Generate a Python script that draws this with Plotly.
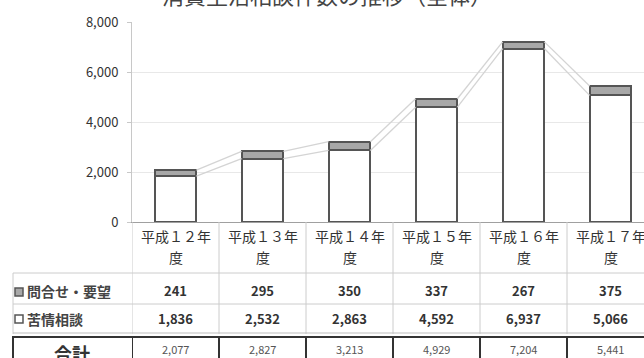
import plotly.graph_objects as go

# ---------------- data ----------------
categories = ["平成１２年度", "平成１３年度", "平成１４年度", "平成１５年度", "平成１６年度", "平成１７年度"]
cat_line1 = ["平成１２年", "平成１３年", "平成１４年", "平成１５年", "平成１６年", "平成１７年"]
cat_line2 = ["度", "度", "度", "度", "度", "度"]
inquiries = [241, 295, 350, 337, 267, 375]          # 問合せ・要望
complaints = [1836, 2532, 2863, 4592, 6937, 5066]    # 苦情相談
totals = [2077, 2827, 3213, 4929, 7204, 5441]        # 合計
y_ticks = [0, 2000, 4000, 6000, 8000]
title_text = "消費生活相談件数の推移（全体）"
row_labels = ["問合せ・要望", "苦情相談"]
total_label = "合計"

# ---------------- layout geometry ----------------
W, H = 644, 358
L, T = 132, 22
PLOT_H = 200
PLOT_W = W - L
COL = 87.0
BAR_W = 0.48
x_idx = list(range(len(categories)))
x_range = [-0.5, -0.5 + PLOT_W / COL]


def py(pix):
    """pixel y -> paper y"""
    return (T + PLOT_H - pix) / PLOT_H


def px(pix):
    """pixel x -> paper x"""
    return (pix - L) / PLOT_W


FONT = "Noto Sans CJK JP"
OUT = "#555555"

fig = go.Figure()

fig.add_trace(go.Bar(
    x=x_idx, y=complaints, width=BAR_W, name="苦情相談",
    marker=dict(color="#ffffff", line=dict(color=OUT, width=2)),
    showlegend=False, hoverinfo="skip"))
fig.add_trace(go.Bar(
    x=x_idx, y=inquiries, width=BAR_W, name="問合せ・要望",
    marker=dict(color="#a8a8a8", line=dict(color=OUT, width=2)),
    showlegend=False, hoverinfo="skip"))

# series lines (Excel style) connecting top of each series between bars
for series_top in (complaints, totals):
    xs, ys = [], []
    for i in range(len(x_idx) - 1):
        xs += [x_idx[i] + BAR_W / 2, x_idx[i + 1] - BAR_W / 2, None]
        ys += [series_top[i], series_top[i + 1], None]
    fig.add_trace(go.Scatter(x=xs, y=ys, mode="lines",
                             line=dict(color="#d4d4d4", width=1.3),
                             showlegend=False, hoverinfo="skip"))

shapes = []
ann = []

LIGHT = "#cccccc"
DARK = "#333333"

# vertical light lines of data table (column boundaries)
for k in range(len(x_idx) + 1):
    shapes.append(dict(type="line", xref="x", yref="paper",
                       x0=k - 0.5, x1=k - 0.5, y0=py(222), y1=py(334),
                       line=dict(color=LIGHT, width=1)))
# left faint border of row-label area
shapes.append(dict(type="line", xref="paper", yref="paper",
                   x0=px(13), x1=px(13), y0=py(273), y1=py(334),
                   line=dict(color=LIGHT, width=1)))
# horizontal faint lines
for yy in (273, 304, 333):
    shapes.append(dict(type="line", xref="paper", yref="paper",
                       x0=px(13), x1=1, y0=py(yy), y1=py(yy),
                       line=dict(color="#bdbdbd" if yy == 333 else LIGHT, width=1)))
# total row dark box
shapes.append(dict(type="line", xref="paper", yref="paper",
                   x0=px(12), x1=1, y0=py(337), y1=py(337),
                   line=dict(color=DARK, width=2)))
shapes.append(dict(type="line", xref="paper", yref="paper",
                   x0=px(13), x1=px(13), y0=py(337), y1=py(362),
                   line=dict(color=DARK, width=2)))
for k in range(len(x_idx) + 1):
    shapes.append(dict(type="line", xref="x", yref="paper",
                       x0=k - 0.5, x1=k - 0.5, y0=py(337), y1=py(362),
                       line=dict(color=DARK, width=2)))

# legend keys in row labels
shapes.append(dict(type="rect", xref="paper", yref="paper",
                   x0=px(15), x1=px(23), y0=py(296), y1=py(288),
                   fillcolor="#a8a8a8", line=dict(color=OUT, width=1.5)))
shapes.append(dict(type="rect", xref="paper", yref="paper",
                   x0=px(15), x1=px(23), y0=py(323), y1=py(315),
                   fillcolor="#ffffff", line=dict(color=OUT, width=1.5)))

# category labels (two lines) and table values
for i in x_idx:
    ann.append(dict(x=i, y=py(236), xref="x", yref="paper", text=cat_line1[i],
                    showarrow=False, xanchor="center", yanchor="middle",
                    font=dict(family=FONT, size=14, color="#333333")))
    ann.append(dict(x=i, y=py(257), xref="x", yref="paper", text=cat_line2[i],
                    showarrow=False, xanchor="center", yanchor="middle",
                    font=dict(family=FONT, size=14, color="#333333")))
    ann.append(dict(x=i, y=py(290), xref="x", yref="paper", text=f"{inquiries[i]:,}",
                    showarrow=False, xanchor="center", yanchor="middle",
                    font=dict(family=FONT, size=13, color="#333333", weight="bold")))
    ann.append(dict(x=i, y=py(318), xref="x", yref="paper", text=f"{complaints[i]:,}",
                    showarrow=False, xanchor="center", yanchor="middle",
                    font=dict(family=FONT, size=13, color="#333333", weight="bold")))
    ann.append(dict(x=i, y=py(349), xref="x", yref="paper", text=f"{totals[i]:,}",
                    showarrow=False, xanchor="center", yanchor="middle",
                    font=dict(family=FONT, size=11, color="#555555")))

# row labels
ann.append(dict(x=px(25), y=py(291), xref="paper", yref="paper", text=row_labels[0],
                showarrow=False, xanchor="left", yanchor="middle",
                font=dict(family=FONT, size=14, color="#444444", weight="bold")))
ann.append(dict(x=px(25), y=py(319), xref="paper", yref="paper", text=row_labels[1],
                showarrow=False, xanchor="left", yanchor="middle",
                font=dict(family=FONT, size=14, color="#444444", weight="bold")))
ann.append(dict(x=px(72), y=py(353), xref="paper", yref="paper", text=total_label,
                showarrow=False, xanchor="center", yanchor="middle",
                font=dict(family=FONT, size=18, color="#333333", weight="bold")))

# title (partially cut off at the top of the picture, as in the reference)
ann.append(dict(x=px(327), y=py(-6), xref="paper", yref="paper", text=title_text,
                showarrow=False, xanchor="center", yanchor="middle",
                font=dict(family=FONT, size=22, color="#444444")))

fig.update_layout(
    width=W, height=H,
    margin=dict(l=L, r=0, t=T, b=H - T - PLOT_H, pad=0),
    barmode="stack", bargap=0,
    plot_bgcolor="#ffffff", paper_bgcolor="#ffffff",
    font=dict(family=FONT, color="#333333"),
    shapes=shapes, annotations=ann,
    xaxis=dict(range=x_range, tickvals=x_idx, showticklabels=False, ticks="",
               showgrid=False, zeroline=False, showline=True,
               linecolor="#a0a0a0", linewidth=1, fixedrange=True),
    yaxis=dict(range=[0, 8000], tickvals=y_ticks,
               ticktext=[f"{v:,}" for v in y_ticks],
               showgrid=True, gridcolor="#e8e8e8", gridwidth=1,
               zeroline=False, showline=True, linecolor="#c8c8c8", linewidth=1,
               ticks="outside", ticklen=4, tickcolor="#c8c8c8",
               ticklabelstandoff=6,
               tickfont=dict(family=FONT, size=13, color="#333333"),
               fixedrange=True),
)

fig.write_html("out.html")
